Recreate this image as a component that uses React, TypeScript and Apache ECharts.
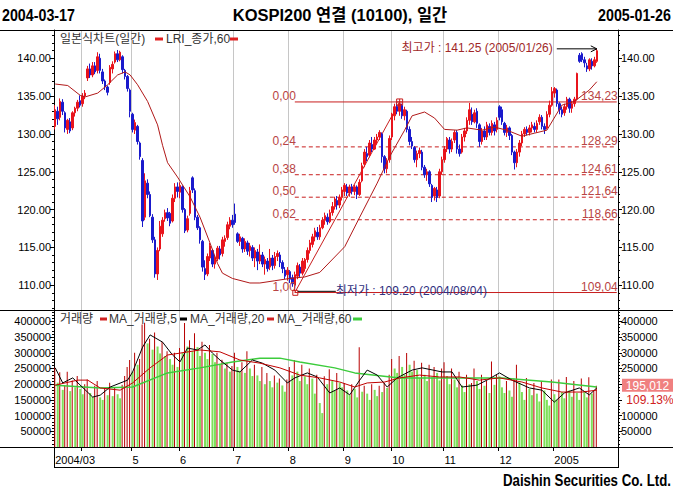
import React, { useEffect, useRef } from "react";
import * as echarts from "echarts";

// ---------- data ----------
const MONTHS = ["2004/03", "2004/04", "2004/05", "2004/06", "2004/07", "2004/08", "2004/09", "2004/10", "2004/11", "2004/12", "2005/01"];
const monthTickLabels = ["2004/03", "", "5", "6", "7", "8", "9", "10", "11", "12", "2005"];

const daysMar = [17, 18, 19, 22, 23, 24, 25, 26, 29, 30, 31];
const daysApr = [1, 2, 6, 7, 8, 9, 12, 13, 14, 16, 19, 20, 21, 22, 23, 26, 27, 28, 29, 30];
const daysMay = [3, 4, 6, 7, 10, 11, 12, 13, 14, 17, 18, 19, 20, 21, 24, 25, 27, 28, 31];
const daysJun = [1, 2, 3, 4, 7, 8, 9, 10, 11, 14, 15, 16, 17, 18, 21, 22, 23, 24, 25, 28, 29, 30];
const daysJul = [1, 2, 5, 6, 7, 8, 9, 12, 13, 14, 15, 16, 19, 20, 21, 22, 23, 26, 27, 28, 29, 30];
const daysAug = [2, 3, 4, 5, 6, 9, 10, 11, 12, 13, 16, 17, 18, 19, 20, 23, 24, 25, 26, 27, 30, 31];
const daysSep = [1, 2, 3, 6, 7, 8, 9, 10, 13, 14, 15, 16, 17, 20, 21, 22, 23, 24, 30];
const daysOct = [1, 4, 5, 6, 7, 8, 11, 12, 13, 14, 15, 18, 19, 20, 21, 22, 25, 26, 27, 28, 29];
const daysNov = [1, 2, 3, 4, 5, 8, 9, 10, 11, 12, 15, 16, 17, 18, 19, 22, 23, 24, 25, 26, 29, 30];
const daysDec = [1, 2, 3, 6, 7, 8, 9, 10, 13, 14, 15, 16, 17, 20, 21, 22, 23, 24, 27, 28, 29, 30];
const daysJan = [3, 4, 5, 6, 7, 10, 11, 12, 13, 14, 17, 18, 19, 20, 21, 24, 25, 26];

// [open, close, low, high]
const candlesMar = [
  [131.0, 133.2, 130.6, 133.8], [133.0, 132.0, 131.2, 133.6], [132.2, 134.3, 131.8, 134.7], [134.2, 133.0, 132.5, 134.6],
  [132.8, 130.8, 130.2, 133.0], [130.6, 131.8, 130.0, 132.0], [131.6, 130.4, 130.1, 132.1], [130.8, 132.8, 130.5, 133.0],
  [132.8, 133.4, 132.3, 133.6], [133.4, 134.2, 133.0, 134.5], [134.4, 133.8, 133.5, 135.1],
];
const candlesApr = [
  [134.0, 135.0, 133.6, 135.4], [135.0, 135.4, 134.6, 135.8], [137.4, 138.6, 137.0, 139.0], [138.6, 137.8, 137.4, 139.3],
  [137.8, 139.0, 137.5, 139.5], [139.0, 138.2, 137.9, 139.5], [138.4, 140.2, 138.0, 140.8], [140.0, 138.4, 138.0, 140.6],
  [138.2, 137.0, 136.6, 138.6], [137.0, 136.2, 135.8, 137.2], [136.2, 135.5, 135.1, 136.4], [136.8, 138.8, 136.5, 139.1],
  [138.6, 139.2, 138.0, 139.6], [139.5, 140.6, 139.3, 140.9], [140.6, 139.8, 139.5, 141.1], [139.8, 140.8, 139.6, 141.0],
  [140.2, 138.5, 138.0, 140.4], [138.4, 137.6, 137.2, 138.6], [137.6, 136.0, 135.6, 137.8], [135.8, 133.0, 132.2, 136.0],
];
const candlesMay = [
  [132.6, 130.6, 130.2, 132.8], [130.5, 131.5, 130.0, 131.9], [131.0, 129.0, 128.6, 131.2], [128.8, 127.0, 126.6, 129.0],
  [126.5, 118.5, 117.7, 126.8], [119.0, 123.8, 118.6, 124.8], [123.5, 122.0, 121.5, 124.0], [122.0, 119.2, 119.0, 122.4],
  [119.0, 116.0, 115.6, 119.4], [116.0, 111.5, 111.0, 116.4], [111.5, 114.6, 110.7, 115.0], [114.8, 117.8, 114.5, 118.5],
  [116.8, 118.6, 116.4, 119.0], [118.8, 119.6, 118.4, 120.0], [119.6, 118.9, 118.5, 120.2], [119.5, 118.2, 117.8, 119.7],
  [118.5, 121.5, 118.3, 122.0], [121.5, 123.0, 121.0, 123.5], [123.0, 122.4, 121.6, 123.6],
];
const candlesJun = [
  [122.3, 123.2, 121.5, 123.6], [123.0, 120.0, 119.6, 123.2], [120.0, 117.2, 116.9, 120.2], [117.3, 118.8, 117.0, 119.2],
  [119.5, 122.5, 119.2, 123.0], [124.2, 122.6, 122.2, 124.4], [122.5, 119.0, 118.6, 122.8], [119.0, 117.6, 117.3, 119.3],
  [117.6, 116.0, 115.5, 117.8], [115.8, 112.4, 111.8, 116.0], [112.2, 111.4, 110.7, 113.3], [111.5, 113.8, 111.2, 114.2],
  [113.6, 115.2, 113.2, 115.6], [114.6, 112.8, 112.4, 114.8], [112.8, 113.6, 112.2, 114.0], [113.5, 114.9, 113.2, 115.2],
  [114.8, 114.0, 113.4, 115.2], [114.2, 116.0, 113.8, 116.4], [115.8, 116.2, 115.1, 116.6], [116.3, 118.0, 116.0, 118.4],
  [117.8, 118.6, 117.4, 119.0], [118.6, 118.0, 117.6, 119.3],
];
const candlesJul = [
  [119.4, 118.3, 118.0, 120.8], [116.8, 115.8, 115.6, 117.0], [115.8, 116.4, 115.2, 116.8], [116.2, 114.8, 114.3, 116.4],
  [114.8, 115.8, 114.4, 116.2], [115.6, 114.5, 114.0, 115.9], [114.6, 115.2, 113.8, 115.6], [115.0, 113.6, 113.2, 115.3],
  [113.6, 114.6, 112.4, 115.0], [114.4, 113.2, 112.0, 114.8], [113.2, 114.0, 112.8, 115.4], [114.0, 112.8, 112.4, 114.4],
  [112.8, 113.4, 111.4, 113.8], [113.2, 112.2, 111.8, 113.6], [112.4, 113.6, 112.0, 114.8], [113.6, 112.6, 112.0, 114.0],
  [112.6, 113.8, 112.2, 114.4], [113.8, 114.2, 113.2, 114.6], [114.0, 113.0, 112.4, 114.4], [113.0, 112.2, 111.6, 113.3],
  [112.0, 111.2, 110.8, 112.4], [111.4, 112.0, 110.6, 112.4],
];
const candlesAug = [
  [111.8, 110.8, 110.3, 112.0], [111.0, 110.2, 109.8, 111.4], [110.0, 111.4, 109.2, 111.8], [111.2, 112.6, 110.8, 113.0],
  [112.4, 111.6, 111.1, 112.8], [111.6, 113.2, 111.3, 113.6], [112.2, 113.4, 111.8, 113.6], [113.4, 114.6, 113.0, 115.0],
  [114.6, 115.6, 114.2, 116.0], [115.4, 116.4, 115.0, 116.8], [116.4, 117.2, 115.8, 117.6], [117.0, 116.4, 116.0, 117.7],
  [116.4, 117.6, 116.0, 118.0], [117.6, 118.6, 117.4, 119.0], [118.6, 119.2, 118.0, 119.6], [119.0, 118.4, 118.0, 119.5],
  [118.4, 119.6, 118.2, 120.0], [119.6, 120.4, 119.2, 121.0], [120.4, 121.4, 120.0, 121.7], [121.2, 120.6, 120.0, 121.8],
  [120.6, 121.6, 120.2, 122.0], [121.6, 122.6, 121.2, 123.0],
];
const candlesSep = [
  [122.4, 123.2, 121.8, 123.5], [123.0, 122.2, 121.8, 123.4], [122.2, 123.0, 121.7, 123.3], [123.0, 122.4, 122.0, 123.4],
  [122.4, 123.0, 121.9, 123.3], [123.0, 122.0, 121.4, 123.2], [122.0, 123.6, 121.8, 124.0], [123.8, 125.8, 123.6, 126.2],
  [126.0, 127.6, 125.6, 128.0], [127.4, 127.0, 126.4, 128.3], [127.2, 128.8, 126.9, 129.2], [128.6, 128.0, 127.6, 129.6],
  [128.0, 129.2, 127.9, 129.6], [129.2, 129.6, 128.6, 130.0], [129.6, 130.2, 129.2, 130.5], [130.0, 127.0, 126.2, 130.2],
  [127.0, 125.4, 124.8, 127.2], [125.4, 126.4, 124.8, 126.8], [126.6, 129.4, 126.2, 129.8],
];
const candlesOct = [
  [129.6, 132.6, 129.2, 132.8], [132.4, 133.6, 131.8, 134.0], [133.6, 133.0, 132.6, 134.2], [133.0, 134.0, 132.4, 134.23],
  [133.8, 132.4, 132.0, 134.0], [132.4, 133.2, 131.8, 133.6], [133.0, 130.6, 130.2, 133.2], [130.6, 129.0, 128.5, 131.0],
  [129.0, 128.4, 128.0, 129.6], [128.2, 126.6, 126.2, 128.4], [126.6, 127.4, 125.6, 127.8], [127.4, 127.8, 126.8, 128.2],
  [127.6, 125.6, 125.2, 127.9], [125.6, 124.6, 124.2, 125.9], [124.6, 125.0, 123.8, 125.4], [125.0, 123.4, 123.0, 125.2],
  [123.2, 121.6, 121.0, 123.4], [121.8, 122.8, 121.2, 123.0], [122.6, 121.6, 121.0, 123.0], [121.8, 125.0, 121.5, 125.4],
  [125.0, 126.6, 124.6, 127.0],
];
const candlesNov = [
  [126.6, 128.0, 126.2, 128.4], [128.0, 129.4, 127.6, 129.6], [129.2, 128.0, 127.4, 129.6], [128.0, 129.0, 127.6, 129.4],
  [129.2, 130.2, 128.8, 130.5], [130.2, 128.0, 127.4, 130.5], [128.0, 127.4, 127.0, 128.6], [127.6, 129.6, 127.4, 130.0],
  [129.6, 130.4, 129.0, 130.8], [130.4, 131.8, 130.0, 132.2], [131.8, 133.2, 131.2, 134.1], [132.6, 131.6, 131.2, 133.5],
  [131.6, 132.8, 131.4, 133.2], [133.0, 131.4, 130.8, 133.4], [131.2, 129.0, 128.3, 131.4], [129.0, 130.4, 128.6, 130.8],
  [130.4, 129.6, 129.2, 131.0], [129.6, 131.2, 129.2, 131.6], [131.0, 130.2, 129.8, 131.4], [130.2, 131.4, 129.8, 131.8],
  [131.2, 130.4, 129.8, 131.6], [130.6, 131.8, 130.2, 132.2],
];
const candlesDec = [
  [133.6, 132.2, 131.8, 133.8], [133.2, 131.6, 131.2, 133.6], [131.4, 130.2, 129.8, 131.6], [130.2, 130.8, 129.6, 131.2],
  [130.8, 129.8, 129.2, 131.0], [129.8, 127.6, 127.2, 130.0], [127.6, 126.2, 125.3, 127.8], [126.2, 127.6, 125.6, 128.0],
  [127.6, 128.8, 127.0, 129.2], [128.8, 130.0, 128.4, 130.4], [130.0, 130.6, 129.6, 130.9], [130.6, 130.2, 129.8, 131.0],
  [130.2, 130.8, 129.8, 131.2], [130.8, 131.2, 130.2, 131.6], [131.0, 130.6, 130.2, 131.5], [130.6, 131.4, 130.2, 131.8],
  [131.6, 132.2, 131.2, 132.6], [132.2, 131.0, 130.6, 132.5], [131.0, 130.6, 130.0, 131.4], [130.8, 132.6, 130.6, 133.0],
  [132.6, 133.8, 132.2, 134.4], [133.8, 135.6, 133.6, 136.2],
];
const candlesJan = [
  [135.4, 136.0, 134.8, 136.2], [135.8, 134.0, 133.6, 136.0], [134.0, 133.2, 132.6, 134.2], [133.2, 132.6, 132.2, 133.6],
  [132.8, 133.6, 132.4, 134.0], [133.6, 134.6, 133.2, 134.9], [134.6, 133.4, 132.8, 134.8], [133.4, 134.0, 132.8, 134.4],
  [134.0, 134.6, 133.6, 134.9], [134.6, 138.0, 134.4, 138.1], [140.4, 139.6, 139.4, 140.7], [140.6, 139.8, 139.5, 140.8],
  [139.8, 139.4, 138.8, 140.2], [139.0, 138.6, 138.2, 139.4], [138.6, 139.8, 138.3, 140.0], [139.6, 139.0, 138.5, 140.0],
  [139.0, 139.8, 138.8, 140.2], [139.6, 141.0, 139.4, 141.25],
];

const volMar = [252000, 205000, 238000, 182000, 196000, 240000, 178000, 212000, 190000, 226000, 185000];
const volApr = [168000, 200000, 215000, 172000, 160000, 195000, 210000, 158000, 150000, 188000, 165000, 205000, 162000, 190000, 168000, 155000, 198000, 226000, 255000, 277000];
const volMay = [240000, 300000, 262000, 280000, 390000, 396000, 330000, 345000, 310000, 365000, 320000, 298000, 335000, 290000, 305000, 280000, 262000, 300000, 255000];
const volJun = [315000, 300000, 395000, 320000, 340000, 305000, 362000, 318000, 290000, 335000, 300000, 280000, 325000, 296000, 270000, 300000, 262000, 278000, 250000, 268000, 240000, 258000];
const volJul = [300000, 255000, 240000, 270000, 236000, 305000, 250000, 226000, 262000, 228000, 210000, 255000, 200000, 236000, 210000, 190000, 228000, 205000, 218000, 196000, 176000, 215000];
const volAug = [255000, 228000, 277000, 240000, 210000, 262000, 225000, 200000, 250000, 218000, 170000, 230000, 140000, 108000, 225000, 200000, 248000, 210000, 180000, 236000, 205000, 190000];
const volSep = [204000, 180000, 165000, 200000, 185000, 158000, 318000, 176000, 195000, 170000, 150000, 200000, 182000, 162000, 195000, 175000, 205000, 188000, 230000];
const volOct = [280000, 250000, 236000, 290000, 255000, 230000, 299000, 262000, 240000, 275000, 245000, 220000, 268000, 230000, 210000, 262000, 222000, 255000, 236000, 212000, 250000];
const volNov = [270000, 226000, 200000, 250000, 215000, 190000, 240000, 196000, 175000, 230000, 200000, 204000, 250000, 210000, 185000, 230000, 195000, 210000, 172000, 272000, 198000, 230000];
const volDec = [225000, 190000, 172000, 210000, 180000, 160000, 218000, 262000, 205000, 175000, 150000, 220000, 185000, 165000, 204000, 170000, 145000, 210000, 180000, 150000, 132000, 215000];
const volJan = [168000, 150000, 215000, 175000, 155000, 223000, 180000, 160000, 210000, 172000, 150000, 218000, 178000, 158000, 222000, 170000, 178700, 195012];

// LRI_종가,60 read at [day index, value]
const lriPoints = [
  [0, 136.6], [5, 136.4], [10, 135.1], [12, 134.9], [17, 135.4], [21, 136.5], [25, 137.8], [28, 138.2], [30, 137.8],
  [33, 136.5], [37, 134.3], [41, 131.2], [43, 128.5], [45, 126.2], [49, 124.3], [54, 121.7], [58, 119.0], [62, 115.6],
  [65, 112.9], [67, 111.6], [71, 110.9], [78, 110.3], [82, 110.3], [88, 110.6], [94, 110.9], [100, 111.1], [106, 111.7],
  [116, 115.1], [122, 119.0], [129, 123.5], [134, 127.0], [140, 130.5], [143, 132.4], [148, 132.9], [152, 132.1],
  [156, 130.6], [161, 130.5], [165, 130.8], [171, 130.5], [176, 130.9], [181, 130.5], [187, 129.7], [192, 130.1],
  [197, 130.5], [203, 133.8], [208, 134.3], [214, 135.8], [217, 136.9],
];
const ma5Points = [
  [0, 252000], [3, 204000], [7, 220000], [15, 159000], [18, 165000], [22, 191000], [29, 213000], [31, 239000], [35, 318000],
  [38, 357000], [43, 334000], [47, 293000], [50, 271000], [53, 315000], [57, 309000], [60, 325000], [63, 299000], [66, 277000],
  [71, 245000], [74, 239000], [79, 277000], [83, 267000], [88, 245000], [93, 204000], [96, 220000], [101, 236000], [105, 223000],
  [110, 172000], [114, 188000], [118, 166000], [122, 213000], [125, 245000], [129, 229000], [133, 191000], [137, 220000],
  [143, 245000], [147, 252000], [155, 239000], [159, 239000], [163, 191000], [169, 197000], [173, 213000], [178, 236000],
  [183, 213000], [190, 188000], [195, 181000], [200, 143000], [204, 172000], [210, 188000], [214, 166000], [217, 188000],
];
const ma20Points = [
  [0, 197000], [9, 213000], [13, 213000], [18, 188000], [26, 181000], [31, 204000], [38, 252000], [45, 293000], [50, 299000],
  [58, 309000], [66, 303000], [74, 277000], [82, 267000], [90, 252000], [98, 229000], [106, 220000], [114, 207000], [120, 191000],
  [125, 204000], [132, 207000], [138, 220000], [146, 229000], [154, 223000], [162, 223000], [170, 213000], [178, 220000],
  [187, 207000], [195, 188000], [203, 175000], [211, 175000], [217, 181000],
];
const ma60Points = [
  [0, 197000], [18, 188000], [31, 191000], [45, 236000], [58, 252000], [71, 271000], [82, 283000], [90, 283000], [98, 271000],
  [112, 252000], [120, 236000], [138, 220000], [159, 220000], [179, 220000], [199, 207000], [217, 191000],
];

// Fibonacci retracement (low 2004/08/04 -> high 2004/10)
const fibStartIdx = 96;
const fibHighIdx = 138;
const fibRatios = ["0,00", "0,24", "0,38", "0,50", "0,62", "1,00"];
const fibValues = [134.23, 128.29, 124.61, 121.64, 118.66, 109.04];
const fibValueLabels = ["134,23", "128,29", "124,61", "121,64", "118,66", "109,04"];

const priceTicks = [110, 115, 120, 125, 130, 135, 140];
const priceMinorTicks = [107, 108, 109, 111, 112, 113, 114, 116, 117, 118, 119, 121, 122, 123, 124, 126, 127, 128, 129, 131, 132, 133, 134, 136, 137, 138, 139, 141, 142, 143];
const volTicks = [50000, 100000, 150000, 200000, 250000, 300000, 350000, 400000];
const volRightLabels = [50000, 100000, 250000, 300000, 350000, 400000];
const volMinorTicks = [10000, 20000, 30000, 40000, 60000, 70000, 80000, 90000, 110000, 120000, 130000, 140000, 160000, 170000, 180000, 190000, 210000, 220000, 230000, 240000, 260000, 270000, 280000, 290000, 310000, 320000, 330000, 340000, 360000, 370000, 380000, 390000, 410000, 420000, 430000];

const PRICE_MIN = 106.73;
const PRICE_MAX = 143.74;
const VOL_MAX = 436300;
const PAD_SLOTS = 8;

const lowIdx = 96;
const lowValue = 109.2;
const highIdx = 217;
const highValue = 141.25;

// ---------- build ----------
const dayLists = [daysMar, daysApr, daysMay, daysJun, daysJul, daysAug, daysSep, daysOct, daysNov, daysDec, daysJan];
const candleLists = [candlesMar, candlesApr, candlesMay, candlesJun, candlesJul, candlesAug, candlesSep, candlesOct, candlesNov, candlesDec, candlesJan];
const volLists = [volMar, volApr, volMay, volJun, volJul, volAug, volSep, volOct, volNov, volDec, volJan];

const categories: string[] = [];
const monthStarts = new Set<number>();
const labelAt = new Map<number, string>();
MONTHS.forEach((m, k) => {
  if (k > 0) monthStarts.add(categories.length);
  if (monthTickLabels[k]) labelAt.set(categories.length, monthTickLabels[k]);
  dayLists[k].forEach((d) => categories.push(`${m}/${String(d).padStart(2, "0")}`));
});
for (let i = 0; i < PAD_SLOTS; i++) categories.push(`pad${i}`);
const lastSlot = categories.length - 1;

const candles = candleLists.flat();
const volumes = volLists.flat();
const volUp = volumes.map((v, i) => (i === 0 || v >= volumes[i - 1] ? v : "-"));
const volDown = volumes.map((v, i) => (i > 0 && v < volumes[i - 1] ? v : "-"));

const NUM_FONT = "'Liberation Sans', Arial, sans-serif";
const KR_FONT = "'Liberation Sans', 'Noto Sans CJK KR', sans-serif";

const RED = "#e8141c";
const BLUE = "#1a1acc";
const FIB = "#c81e1e";
const FIBTXT = "#b84444";

function yAxisPair(grid: number, pos: "left" | "right", min: number, max: number, major: number[], minor: number[], labels: number[], fmt: (v: number) => string) {
  return [
    {
      type: "value", gridIndex: grid, position: pos, min, max,
      axisLine: { show: true, lineStyle: { color: "#000", width: 1 } },
      axisTick: { show: true, customValues: major, length: 4, lineStyle: { color: "#000" } },
      axisLabel: { show: true, customValues: labels, formatter: fmt, color: "#000", fontSize: 11, fontFamily: NUM_FONT, margin: 3 },
      splitLine: { show: false },
    },
    {
      type: "value", gridIndex: grid, position: pos, min, max,
      axisLine: { show: false },
      axisTick: { show: true, customValues: minor, length: 2, lineStyle: { color: "#000" } },
      axisLabel: { show: false },
      splitLine: { show: false },
    },
  ];
}

function buildOption() {
  const splitLine = { show: true, interval: (i: number) => monthStarts.has(i), lineStyle: { color: "#c6c6c6", width: 1 } };
  const priceFmt = (v: number) => v.toFixed(2);
  const volFmt = (v: number) => String(v);
  const lineSeries = (name: string, data: number[][], color: string, width: number, x: number, y: number, z: number, type: any = "solid") => ({
    name, type: "line", xAxisIndex: x, yAxisIndex: y, data, symbol: "none", z,
    lineStyle: { color, width, type }, silent: true,
  });
  const fibSeries = fibValues.map((v, k) =>
    lineSeries(`fib${k}`, [[fibStartIdx, v], [lastSlot, v]], FIB, 1, 0, 0, 2, k === 0 || k === fibValues.length - 1 ? "solid" : [4, 3])
  );
  return {
    animation: false,
    backgroundColor: "#ffffff",
    grid: [
      { left: 54, right: 55, top: 30, height: 280 },
      { left: 54, right: 55, top: 310, height: 137 },
    ],
    xAxis: [
      {
        type: "category", gridIndex: 0, data: categories, boundaryGap: true,
        axisLine: { show: false }, axisTick: { show: false }, axisLabel: { show: false }, splitLine,
      },
      {
        type: "category", gridIndex: 1, data: categories, boundaryGap: true,
        axisLine: { show: true, lineStyle: { color: "#000" } },
        axisTick: { show: true, interval: (i: number) => monthStarts.has(i), length: 4, lineStyle: { color: "#000" } },
        axisLabel: {
          show: true, interval: (i: number) => labelAt.has(i), formatter: (_v: string, i: number) => labelAt.get(i) || "",
          align: "left", color: "#000", fontSize: 11, fontFamily: NUM_FONT, margin: 7,
        },
        splitLine,
      },
    ],
    yAxis: [
      ...yAxisPair(0, "left", PRICE_MIN, PRICE_MAX, priceTicks, priceMinorTicks, priceTicks, priceFmt),
      ...yAxisPair(0, "right", PRICE_MIN, PRICE_MAX, priceTicks, priceMinorTicks, priceTicks, priceFmt),
      ...yAxisPair(1, "left", 0, VOL_MAX, volTicks, volMinorTicks, volTicks, volFmt),
      ...yAxisPair(1, "right", 0, VOL_MAX, volTicks, volMinorTicks, volRightLabels, volFmt),
    ],
    series: [
      {
        name: "일본식차트(일간)", type: "candlestick", xAxisIndex: 0, yAxisIndex: 0, data: candles, barWidth: 2, z: 3,
        itemStyle: { color: RED, color0: BLUE, borderColor: RED, borderColor0: BLUE, borderWidth: 1 },
      },
      lineSeries("LRI_종가,60", lriPoints, "#b01818", 1, 0, 0, 4),
      lineSeries("fibTrend", [[fibStartIdx, fibValues[fibValues.length - 1]], [fibHighIdx, fibValues[0]]], FIB, 1, 0, 0, 2),
      ...fibSeries,
      {
        name: "거래량+", type: "bar", xAxisIndex: 1, yAxisIndex: 4, data: volUp, barWidth: 1, barGap: "-100%",
        itemStyle: { color: "#b80000" }, z: 2, silent: true,
      },
      {
        name: "거래량-", type: "bar", xAxisIndex: 1, yAxisIndex: 4, data: volDown, barWidth: 2, barGap: "-100%",
        itemStyle: { color: "#7ee05a" }, z: 2, silent: true,
      },
      lineSeries("MA_거래량,5", ma5Points, "#000000", 1, 1, 4, 5),
      lineSeries("MA_거래량,20", ma20Points, "#c00000", 1, 1, 4, 5),
      lineSeries("MA_거래량,60", ma60Points, "#3ccc3c", 1.5, 1, 4, 4),
    ],
  };
}

function txt(x: number, y: number, text: string, fill: string, size: number, family: string, align = "left", weight = "normal", scaleX = 1) {
  return {
    type: "text", silent: true, z: 100, x, y, scaleX, scaleY: 1,
    style: { text, fill, fontSize: size, fontFamily: family, fontWeight: weight, align, verticalAlign: "middle", textAlign: align, textVerticalAlign: "middle" },
  };
}
function ln(x1: number, y1: number, x2: number, y2: number, stroke = "#000", w = 1) {
  return { type: "line", silent: true, z: 100, shape: { x1, y1, x2, y2 }, style: { stroke, lineWidth: w } };
}
function box(x: number, y: number, w: number, h: number, fill: string | null, stroke: string | null) {
  return { type: "rect", silent: true, z: 100, shape: { x, y, width: w, height: h }, style: { fill: fill || "none", stroke: stroke || "none", lineWidth: 1 } };
}

function buildGraphics(chart: any) {
  const p = (i: number, v: number) => chart.convertToPixel({ seriesIndex: 0 }, [i, v]);
  const els: any[] = [];
  // frame lines
  els.push(ln(0, 30.5, 673, 30.5));
  els.push(ln(0, 310.5, 673, 310.5));
  els.push(ln(0, 447.5, 673, 447.5));
  els.push(ln(54.5, 447, 54.5, 467.5));
  els.push(ln(618.5, 447, 618.5, 467.5));
  els.push(ln(54, 467.5, 619, 467.5));
  // header (tall condensed bold look)
  els.push(txt(2, 15, "2004-03-17", "#000", 17, NUM_FONT, "left", "bold", 0.84));
  els.push(txt(340, 15, "KOSPI200 연결 (10100), 일간", "#000", 17, KR_FONT, "center", "bold", 0.97));
  els.push(txt(671, 15, "2005-01-26", "#000", 17, NUM_FONT, "right", "bold", 0.84));
  els.push(txt(671, 481, "Daishin Securities Co. Ltd.", "#000", 16, NUM_FONT, "right", "bold", 0.83));
  // price legend
  els.push(txt(60, 39, "일본식차트(일간)", "#333", 12, KR_FONT));
  els.push(box(155, 37.5, 8, 3, "#e02020", null));
  els.push(txt(166, 39, "LRI_종가,60", "#333", 12, KR_FONT));
  els.push(box(230, 37.5, 8, 3, "#e02020", null));
  // volume legend
  els.push(txt(60, 319, "거래량", "#333", 12, KR_FONT));
  els.push(box(100, 317.5, 7, 3, "#d02020", null));
  els.push(txt(109, 319, "MA_거래량,5", "#333", 12, KR_FONT));
  els.push(box(180, 317.5, 7, 3, "#000", null));
  els.push(txt(190, 319, "MA_거래량,20", "#333", 12, KR_FONT));
  els.push(box(267, 317.5, 7, 3, "#d02020", null));
  els.push(txt(277, 319, "MA_거래량,60", "#333", 12, KR_FONT));
  els.push(box(353, 317.5, 9, 3, "#3ccc3c", null));
  // fib labels
  const xr = chart.convertToPixel({ seriesIndex: 0 }, [lastSlot, 0])[0];
  fibValues.forEach((v, k) => {
    const [x, y] = p(fibStartIdx, v);
    els.push(txt(x + 1, y - 6, fibRatios[k], FIBTXT, 12, NUM_FONT, "right"));
    els.push(txt(xr + 1, y - 6, fibValueLabels[k], FIBTXT, 12, NUM_FONT, "right"));
  });
  // high of retracement marker
  const [hx0, hy0] = p(fibHighIdx, fibValues[0]);
  els.push(box(hx0 - 3, hy0 - 3, 6, 6, null, FIB));
  els.push(ln(hx0, hy0 - 3, hx0, hy0 + 3, FIB));
  els.push(ln(hx0 - 3, hy0, hx0 + 3, hy0, FIB));
  // lowest
  const [lx, ly] = p(lowIdx, lowValue);
  els.push(box(lx - 2, ly - 1, 5, 5, null, FIB));
  els.push(ln(lx + 3, ly, lx + 41, ly, "#000"));
  els.push(txt(lx + 41, ly, `최저가 : ${lowValue.toFixed(2)} (2004/08/04)`, "#303080", 12, KR_FONT, "left"));
  // highest
  const [hx, hy] = p(highIdx, highValue);
  els.push(ln(hx - 40, hy, hx, hy, "#000"));
  els.push({ type: "polyline", silent: true, z: 100, shape: { points: [[hx - 6, hy - 3], [hx, hy], [hx - 6, hy + 3]] }, style: { stroke: "#000", fill: "none", lineWidth: 1 } });
  els.push(txt(hx - 44, hy - 1, `최고가 : ${highValue.toFixed(2)} (2005/01/26)`, "#a02828", 12, KR_FONT, "right"));
  // last volume tag
  const lastVol = volumes[volumes.length - 1];
  const prevVol = volumes[volumes.length - 2];
  const vy = chart.convertToPixel({ seriesIndex: 9 }, [volumes.length - 1, lastVol])[1];
  els.push(box(622, vy - 7, 51, 13, "#f08080", null));
  els.push(txt(647.5, vy, lastVol.toLocaleString("en-US"), "#ffffff", 12, NUM_FONT, "center"));
  els.push(txt(650, vy + 14, `${((lastVol / prevVol) * 100).toFixed(2)}%`, "#d02020", 12, NUM_FONT, "center"));
  return els;
}

export default function App() {
  const ref = useRef<HTMLDivElement>(null);
  useEffect(() => {
    document.body.style.margin = "0";
    const chart = echarts.init(ref.current as HTMLDivElement, undefined, { renderer: "svg" });
    chart.setOption(buildOption() as any);
    chart.setOption({ graphic: { elements: buildGraphics(chart) } } as any);
    return () => chart.dispose();
  }, []);
  return <div ref={ref} style={{ width: 673, height: 491, background: "#fff" }} />;
}
